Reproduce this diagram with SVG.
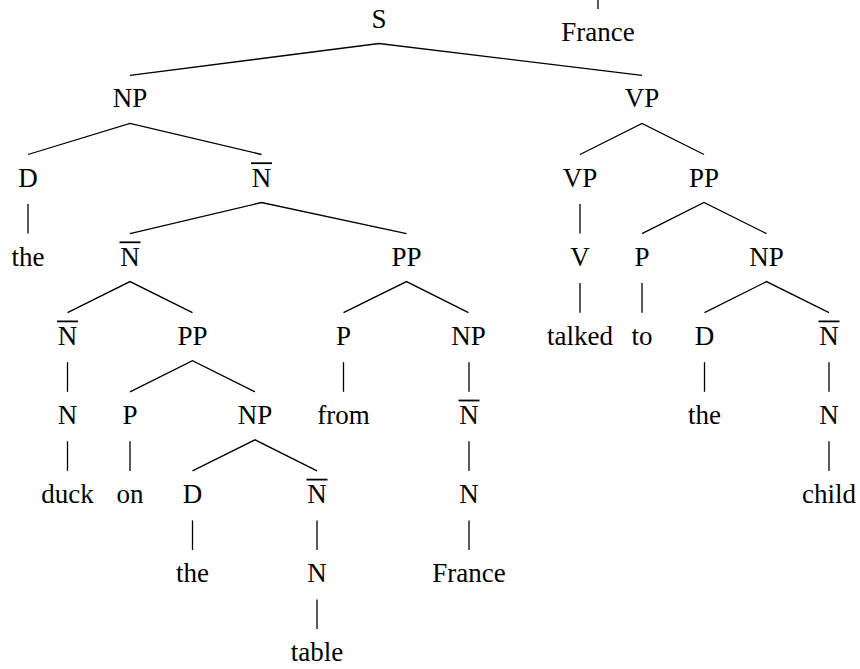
<svg xmlns="http://www.w3.org/2000/svg" width="860" height="669" viewBox="0 0 860 669" font-family="Liberation Serif, DejaVu Serif, serif">
<style>
text{font-size:27px;fill:#000;text-anchor:middle}
.e line{stroke:#000;stroke-width:1.3;fill:none}
.e polyline{stroke:#000;stroke-width:1.3;fill:none}
.bar{stroke:#000;stroke-width:1.8}
</style>
<rect width="860" height="669" fill="#fff"/>
<g class="e" id="connectors">
<line x1="598" y1="0" x2="598" y2="9"/>
<polyline points="130,75.4 379,43.5 642,75.4"/>
<polyline points="28,154.5 130,123.4 261.5,154.5"/>
<polyline points="580,154.5 642,123.4 704,154.5"/>
<line x1="28" y1="204" x2="28" y2="233.6"/>
<polyline points="130,233.6 261.5,202.5 406.5,233.6"/>
<line x1="580" y1="204" x2="580" y2="233.6"/>
<polyline points="642,233.6 704,202.5 766.5,233.6"/>
<polyline points="67.5,312.7 130,281.6 192.5,312.7"/>
<polyline points="343.5,312.7 406.5,281.6 468.5,312.7"/>
<line x1="580" y1="283.1" x2="580" y2="312.7"/>
<line x1="642" y1="283.1" x2="642" y2="312.7"/>
<polyline points="704.5,312.7 766.5,281.6 829,312.7"/>
<line x1="67.5" y1="362.2" x2="67.5" y2="391.8"/>
<polyline points="130,391.8 192.5,360.7 255,391.8"/>
<line x1="343.5" y1="362.2" x2="343.5" y2="391.8"/>
<line x1="469" y1="362.2" x2="469" y2="391.8"/>
<line x1="704.5" y1="362.2" x2="704.5" y2="391.8"/>
<line x1="829" y1="362.2" x2="829" y2="391.8"/>
<line x1="67.5" y1="441.3" x2="67.5" y2="470.9"/>
<line x1="130" y1="441.3" x2="130" y2="470.9"/>
<polyline points="192.5,470.9 255,439.8 317,470.9"/>
<line x1="469" y1="441.3" x2="469" y2="470.9"/>
<line x1="829" y1="441.3" x2="829" y2="470.9"/>
<line x1="192.5" y1="520.4" x2="192.5" y2="550"/>
<line x1="317" y1="520.4" x2="317" y2="550"/>
<line x1="469" y1="520.4" x2="469" y2="550"/>
<line x1="317" y1="599.5" x2="317" y2="629.1"/>
</g>
<g id="stray-france"><text x="598" y="40.5">France</text></g>
<g id="S"><text x="379" y="28.3">S</text></g>
<g id="NP1"><text x="130" y="107.4">NP</text></g>
<g id="VP1"><text x="642" y="107.4">VP</text></g>
<g id="D1"><text x="28" y="186.5">D</text></g>
<g id="Nbar1"><text x="261.5" y="186.5">N</text><line class="bar" x1="251" y1="163.2" x2="272" y2="163.2"/></g>
<g id="VP2"><text x="580" y="186.5">VP</text></g>
<g id="PP1"><text x="704" y="186.5">PP</text></g>
<g id="the1"><text x="28" y="265.6">the</text></g>
<g id="Nbar2"><text x="130" y="265.6">N</text><line class="bar" x1="119.5" y1="242.3" x2="140.5" y2="242.3"/></g>
<g id="PP2"><text x="406.5" y="265.6">PP</text></g>
<g id="V"><text x="580" y="265.6">V</text></g>
<g id="P1"><text x="642" y="265.6">P</text></g>
<g id="NP2"><text x="766.5" y="265.6">NP</text></g>
<g id="Nbar3"><text x="67.5" y="344.7">N</text><line class="bar" x1="57" y1="321.4" x2="78" y2="321.4"/></g>
<g id="PP3"><text x="192.5" y="344.7">PP</text></g>
<g id="P2"><text x="343.5" y="344.7">P</text></g>
<g id="NP3"><text x="468.5" y="344.7">NP</text></g>
<g id="talked"><text x="580" y="344.7">talked</text></g>
<g id="to"><text x="642" y="344.7">to</text></g>
<g id="D2"><text x="704.5" y="344.7">D</text></g>
<g id="Nbar4"><text x="829" y="344.7">N</text><line class="bar" x1="818.5" y1="321.4" x2="839.5" y2="321.4"/></g>
<g id="N1"><text x="67.5" y="423.8">N</text></g>
<g id="P3"><text x="130" y="423.8">P</text></g>
<g id="NP4"><text x="255" y="423.8">NP</text></g>
<g id="from"><text x="343.5" y="423.8">from</text></g>
<g id="Nbar5"><text x="469" y="423.8">N</text><line class="bar" x1="458.5" y1="400.5" x2="479.5" y2="400.5"/></g>
<g id="the2"><text x="704.5" y="423.8">the</text></g>
<g id="N2"><text x="829" y="423.8">N</text></g>
<g id="duck"><text x="67.5" y="502.9">duck</text></g>
<g id="on"><text x="130" y="502.9">on</text></g>
<g id="D3"><text x="192.5" y="502.9">D</text></g>
<g id="Nbar6"><text x="317" y="502.9">N</text><line class="bar" x1="306.5" y1="479.6" x2="327.5" y2="479.6"/></g>
<g id="N3"><text x="469" y="502.9">N</text></g>
<g id="child"><text x="829" y="502.9">child</text></g>
<g id="the3"><text x="192.5" y="582">the</text></g>
<g id="N4"><text x="317" y="582">N</text></g>
<g id="France"><text x="469" y="582">France</text></g>
<g id="table"><text x="317" y="661.1">table</text></g>
</svg>
